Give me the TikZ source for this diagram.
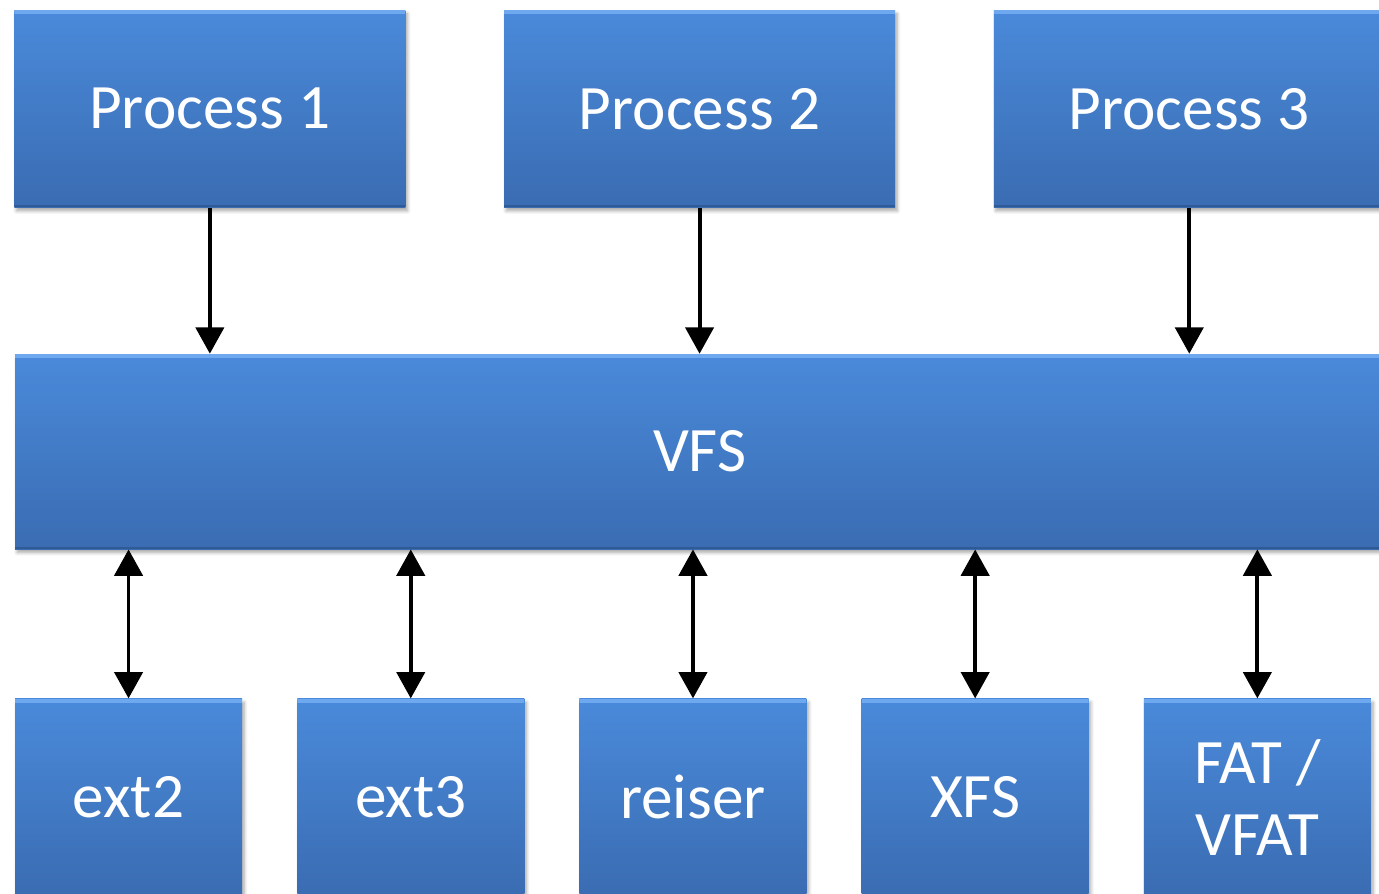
\documentclass[tikz,border=0pt]{standalone}
\usepackage{fontspec}
\setmainfont{Carlito}
\usepackage{tikz}
\usetikzlibrary{arrows.meta, positioning, shadows.blur}
\definecolor{boxtop}{HTML}{4A8ADA}
\definecolor{boxbottom}{HTML}{3A6CB2}
\definecolor{bevellight}{HTML}{6EA8EE}
\definecolor{edgedark}{HTML}{2F5A96}

\begin{document}
\begin{tikzpicture}[
    node distance=2.92cm and 1.96cm,
    fsbox/.style={rectangle, draw=none, top color=boxtop, bottom color=boxbottom, text=white,
        font=\fontsize{36}{41}\selectfont, align=center, inner sep=0pt,
        blur shadow={shadow xshift=1.2pt, shadow yshift=-2pt, shadow blur steps=6, shadow opacity=35},
        path picture={
            \fill[bevellight] ([yshift=-2.2pt]path picture bounding box.north west) rectangle (path picture bounding box.north east);
            \fill[edgedark] (path picture bounding box.south west) rectangle ([yshift=1.2pt]path picture bounding box.south east);
        }},
    process/.style={fsbox, minimum width=7.82cm, minimum height=3.94cm},
    layer/.style={fsbox, minimum width=27.38cm, minimum height=3.9cm},
    fs/.style={fsbox, minimum width=4.54cm, minimum height=3.94cm},
    arr/.style={-{Triangle[width=16pt, length=15pt]}, line width=2.2pt},
    dblarr/.style={{Triangle[width=16pt, length=15pt]}-{Triangle[width=16pt, length=15pt]}, line width=2.2pt},
]
    \useasboundingbox (0,0) rectangle (27.58,-17.86);

    % user processes
    \node[process, anchor=north west] (proc1) at (0.28,-0.2) {Process 1};
    \node[process, right=of proc1] (proc2) {Process 2};
    \node[process, right=of proc2] (proc3) {Process 3};

    % virtual file system layer
    \node[layer, below=of proc2] (vfs) {VFS};

    % concrete file systems
    \node[fs, below right=2.98cm and 0cm of vfs.south west] (ext2) {ext2};
    \node[fs, right=1.09cm of ext2] (ext3) {ext3};
    \node[fs, right=1.09cm of ext3] (reiser) {reiser};
    \node[fs, right=1.09cm of reiser] (xfs) {XFS};
    \node[fs, right=1.09cm of xfs] (fat) {FAT /\\VFAT};

    \foreach \p in {proc1, proc2, proc3}
        \draw[arr] (\p) -- (\p |- vfs.north);
    \foreach \f in {ext2, ext3, reiser, xfs, fat}
        \draw[dblarr] (\f) -- (\f |- vfs.south);
\end{tikzpicture}
\end{document}
